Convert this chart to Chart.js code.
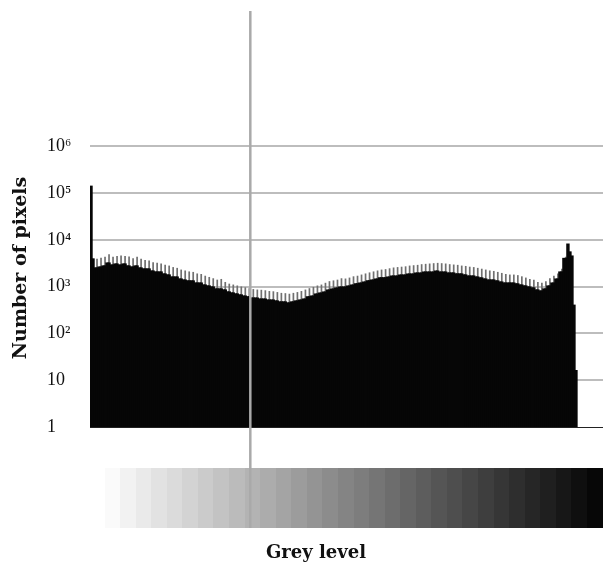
<!DOCTYPE html>
<html>
<head>
<meta charset="utf-8">
<script src="https://cdn.jsdelivr.net/npm/chart.js@4.4.1/dist/chart.umd.min.js"></script>
<style>
  html, body { margin: 0; padding: 0; background: #ffffff; }
  #wrap { width: 603px; height: 567px; position: relative; }
</style>
</head>
<body>
<div id="wrap"><canvas id="c" width="603" height="567"></canvas></div>
<script>
// ---- data ----
const greyLevels = Array.from({ length: 256 }, (_, i) => String(i));

// number of pixels per grey level (log scale)
const counts = [
  140000, 3900,
  2500, 3900, 2620, 4100, 2760, 4300, 3190, 4900, 2890, 4300, 3040, 4500, 2890, 4600,
  3040, 4500, 2760, 4400, 2620, 4000, 2760, 4300, 2500, 3900, 2380, 3700, 2380, 3600,
  2150, 3300, 2050, 3200, 2050, 3100, 1860, 2900, 1770, 2800, 1600, 2600, 1600, 2500,
  1450, 2300, 1380, 2200, 1320, 2100, 1320, 2050, 1190, 1900, 1190, 1850, 1080, 1700,
  1030, 1600, 980, 1500, 889, 1400, 889, 1450, 846, 1250, 767, 1150, 730, 1100,
  695, 1050, 662, 1000, 630, 960, 600, 920, 571, 880, 571, 860, 543, 850,
  543, 830, 517, 800, 517, 790, 492, 760, 469, 730, 469, 720, 446, 700,
  469, 730, 492, 760, 517, 800, 543, 860, 600, 920, 630, 980, 695, 1050,
  730, 1100, 767, 1200, 846, 1300, 889, 1350, 934, 1400, 980, 1500, 980, 1480,
  1030, 1550, 1080, 1650, 1140, 1700, 1190, 1800, 1250, 1900, 1320, 2000, 1380, 2100,
  1450, 2200, 1530, 2300, 1530, 2350, 1600, 2450, 1680, 2550, 1680, 2600, 1770, 2650,
  1770, 2700, 1860, 2800, 1860, 2850, 1950, 2900, 1950, 3000, 2050, 3050, 2050, 3100,
  2050, 3150, 2150, 3200, 2050, 3150, 2050, 3100, 1950, 3000, 1950, 2950, 1860, 2900,
  1860, 2800, 1770, 2750, 1680, 2650, 1680, 2600, 1600, 2500, 1530, 2400, 1450, 2300,
  1380, 2200, 1380, 2150, 1320, 2050, 1250, 1950, 1190, 1850, 1190, 1800, 1190, 1800,
  1140, 1750, 1080, 1650, 1030, 1550, 980, 1450, 934, 1400, 846, 1250, 805, 1200,
  889, 1300, 1030, 1500, 1190, 1700,
  1450, 1900, 2050, 2400, 4000, 4300, 8100, 5500, 4500, 400, 16,
  null, null, null, null, null, null, null, null, null, null, null, null, null
];

const tickValues = [1, 10, 100, 1000, 10000, 100000, 1000000];
const tickLabels = ['1', '10', '10\u00B2', '10\u00B3', '10\u2074', '10\u2075', '10\u2076'];

const yTitle = 'Number of pixels';
const xTitle = 'Grey level';
const markerLevel = 79.5;      // grey level of the vertical reference line
const gradientStartLevel = 7;  // grey-ramp strip starts here
const gradientSteps = 32;

// black body of each bar (odd bins show a thin grey tip above their neighbour)
const bodyCounts = counts.map((v, i) =>
  (v !== null && i % 2 === 1 && counts[i - 1] !== null) ? Math.min(v, counts[i - 1]) : v);

const decor = {
  id: 'decor',
  afterDraw(chart) {
    const ctx = chart.ctx;
    const xs = chart.scales.x;
    const area = chart.chartArea;
    ctx.save();
    // grey ramp
    const left = xs.getPixelForValue(gradientStartLevel);
    const right = area.right;
    const top = area.bottom + 41;
    const h = 60;
    const w = (right - left) / gradientSteps;
    for (let j = 0; j < gradientSteps; j++) {
      const g = Math.round(250 - j * (243 / (gradientSteps - 1)));
      ctx.fillStyle = `rgb(${g},${g},${g})`;
      ctx.fillRect(Math.floor(left + j * w), top, Math.ceil(w) + 1, h);
    }
    // vertical marker
    const mx = xs.getPixelForValue(markerLevel);
    ctx.strokeStyle = '#a9a9a9';
    ctx.lineWidth = 2.5;
    ctx.beginPath();
    ctx.moveTo(mx, 11);
    ctx.lineTo(mx, top + h);
    ctx.stroke();
    // axis titles
    ctx.fillStyle = '#111';
    ctx.textAlign = 'center';
    ctx.textBaseline = 'middle';
    ctx.font = 'bold 18px "DejaVu Serif"';
    ctx.fillText(xTitle, 316, 553);
    ctx.translate(21, 268);
    ctx.rotate(-Math.PI / 2);
    ctx.font = 'bold 19px "DejaVu Serif"';
    ctx.fillText(yTitle, 0, 0);
    ctx.restore();
  }
};

new Chart(document.getElementById('c'), {
  type: 'bar',
  data: {
    labels: greyLevels,
    datasets: [
      {
        label: 'body',
        data: bodyCounts,
        backgroundColor: '#060606',
        borderWidth: 0,
        inflateAmount: 0.7,
        barPercentage: 1,
        categoryPercentage: 1,
        grouped: false,
        order: 1
      },
      {
        label: 'tips',
        data: counts,
        backgroundColor: '#707070',
        borderWidth: 0,
        inflateAmount: 0.2,
        barPercentage: 0.65,
        categoryPercentage: 1,
        grouped: false,
        order: 2
      }
    ]
  },
  options: {
    responsive: false,
    animation: false,
    devicePixelRatio: 1,
    layout: { padding: { left: 47, top: 110, right: 0, bottom: 0 } },
    plugins: { legend: { display: false }, tooltip: { enabled: false } },
    scales: {
      x: {
        type: 'category',
        offset: true,
        grid: { display: false },
        ticks: { display: false },
        border: { display: true, color: '#222', width: 1 },
        afterFit: s => { s.height = 140; }
      },
      y: {
        type: 'logarithmic',
        min: 1,
        max: 6e6,
        z: 1,
        afterFit: s => { s.width = 43; },
        afterBuildTicks: s => { s.ticks = tickValues.map(v => ({ value: v })); },
        ticks: {
          callback: (v, i) => tickLabels[i],
          crossAlign: 'far',
          autoSkip: false,
          padding: 0,
          color: '#111',
          font: { family: 'Liberation Serif', size: 18 }
        },
        grid: {
          color: c => (c.tick && c.tick.value === 1) ? 'rgba(0,0,0,0)' : '#bdbdbd',
          lineWidth: 2,
          drawTicks: false
        },
        border: { display: false }
      }
    }
  },
  plugins: [decor]
});
</script>
</body>
</html>
